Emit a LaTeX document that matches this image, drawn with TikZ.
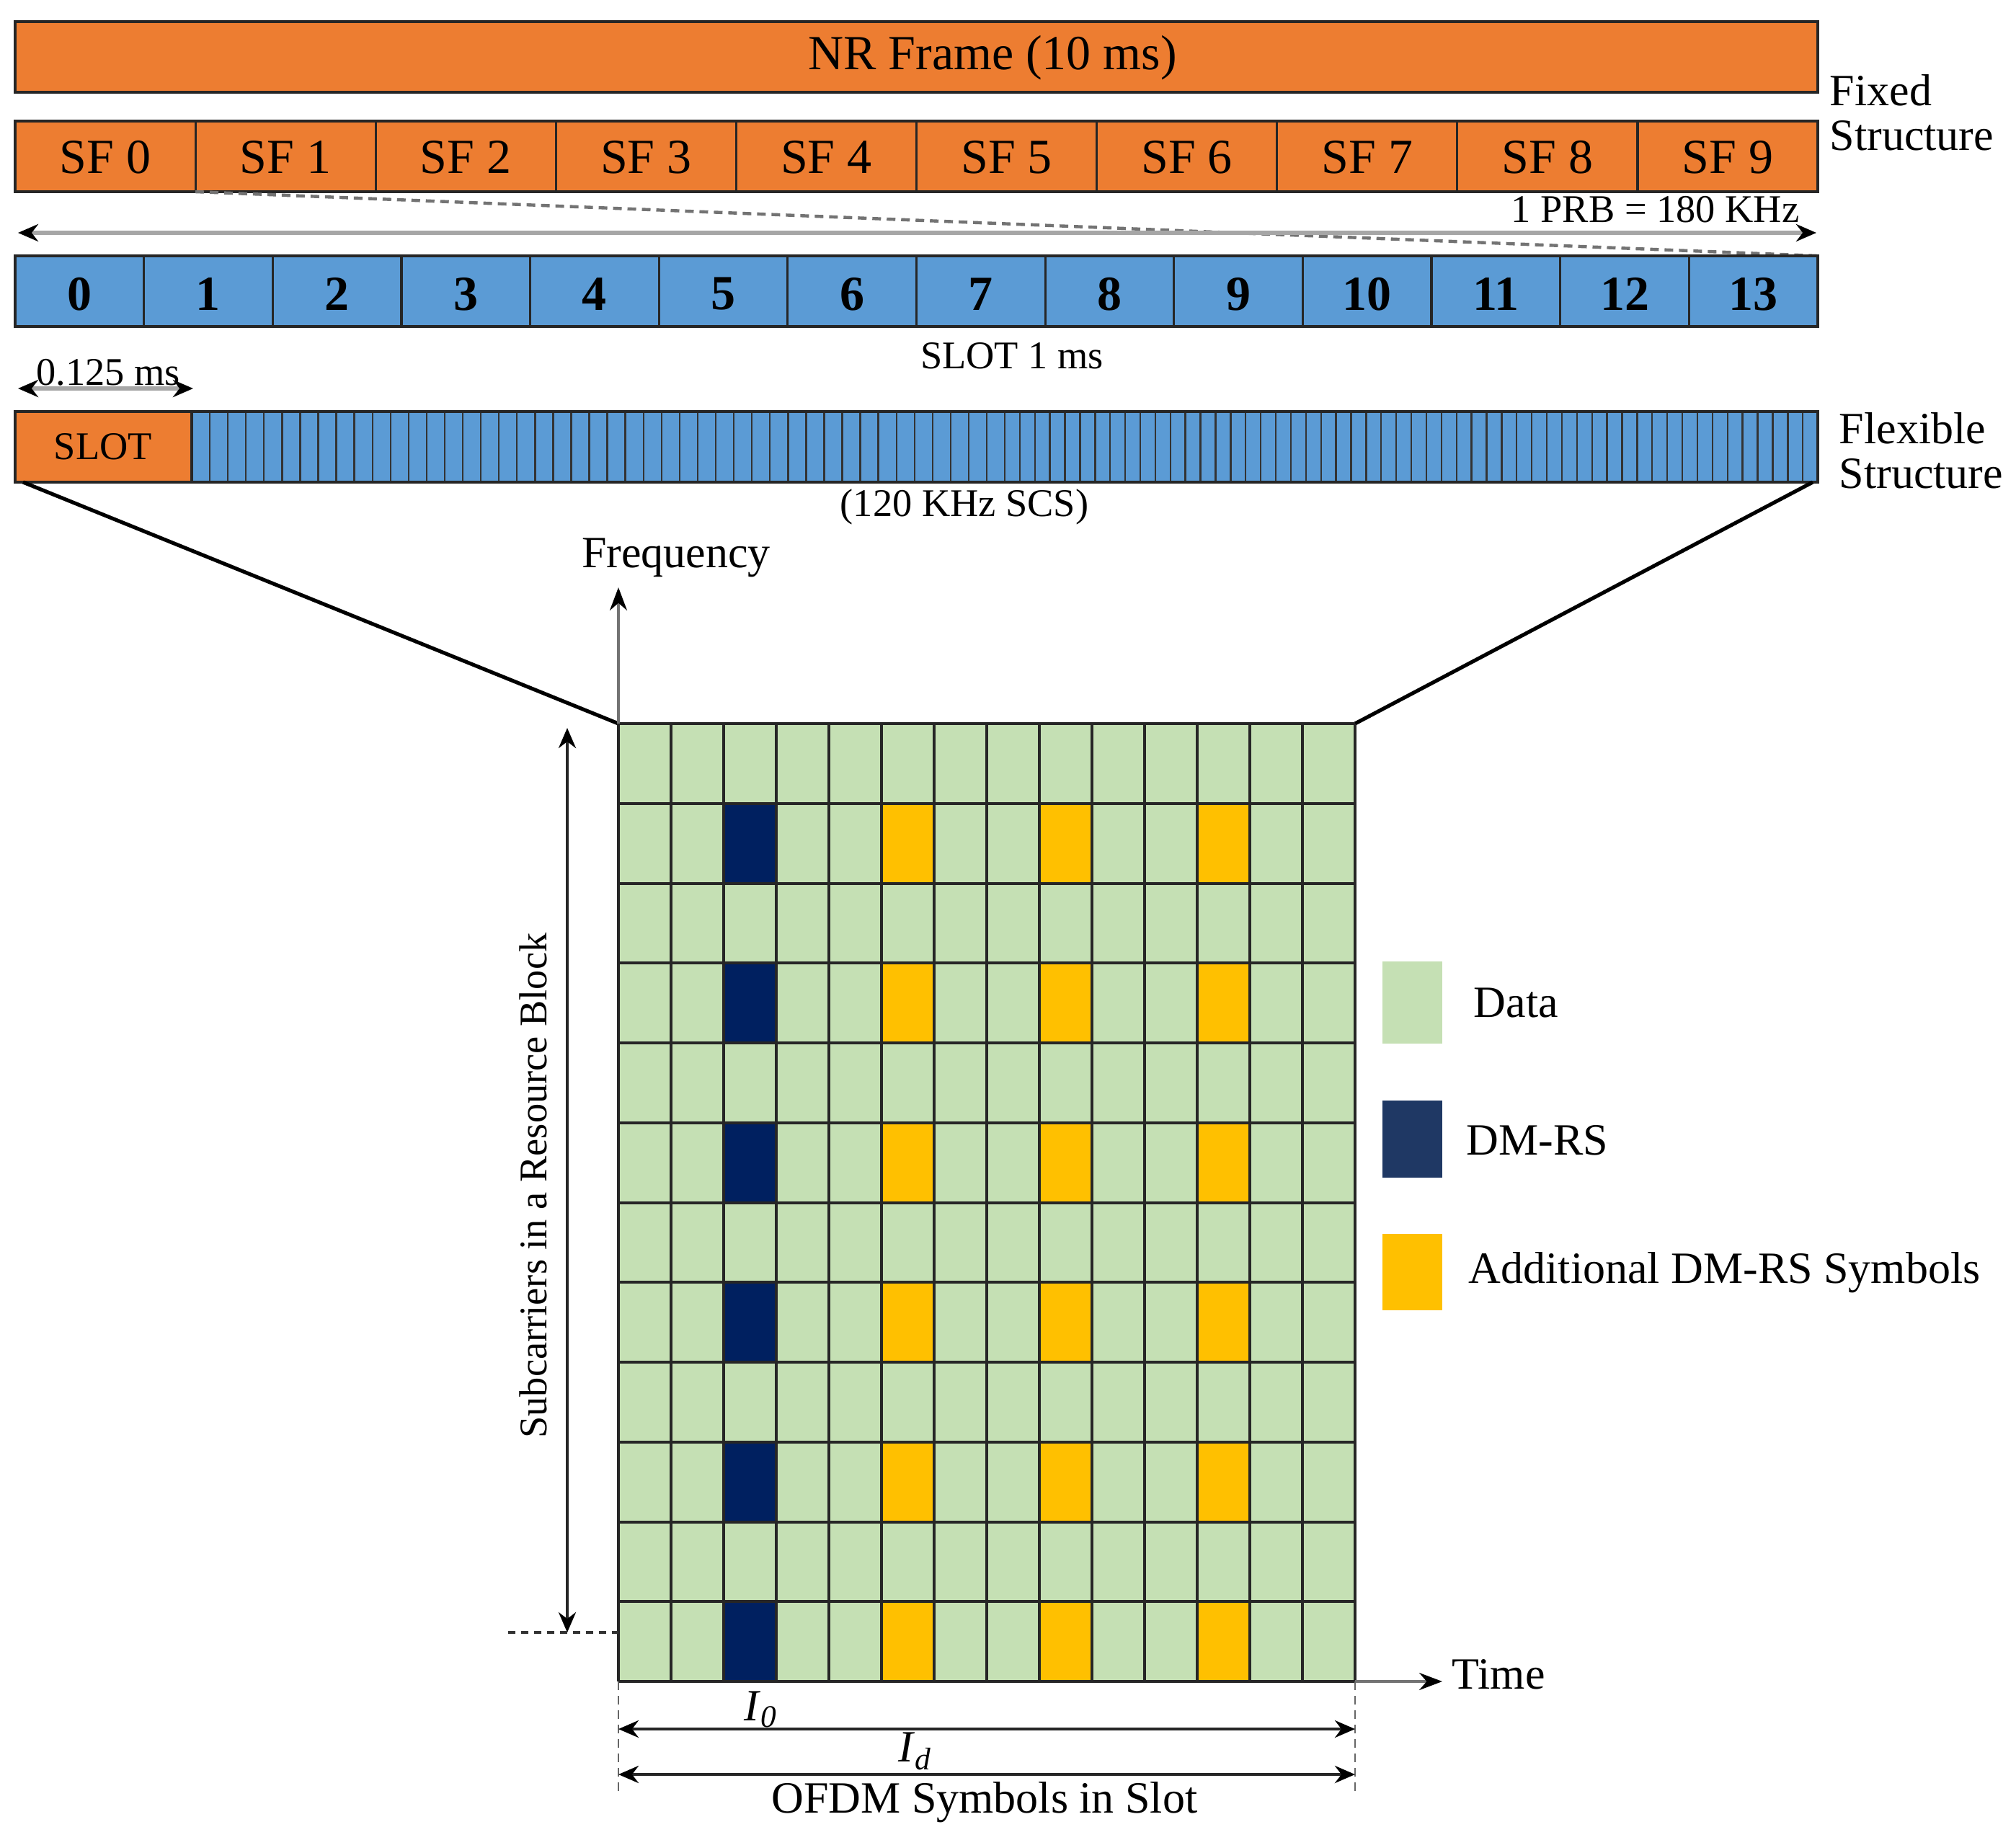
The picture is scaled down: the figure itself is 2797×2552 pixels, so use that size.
\documentclass[tikz,border=0pt]{standalone}
\usepackage{fontspec}
\setmainfont{Liberation Serif}
\usetikzlibrary{arrows.meta}
\definecolor{orng}{HTML}{ED7D31}
\definecolor{blu}{HTML}{5B9BD5}
\definecolor{grn}{HTML}{C5E0B4}
\definecolor{navy}{HTML}{002060}
\definecolor{navyl}{HTML}{1F3864}
\definecolor{yel}{HTML}{FFC000}
\definecolor{arrgray}{HTML}{A6A6A6}
\tikzset{
  bar/.style={draw=black!85, line width=1.2pt},
  cellline/.style={draw=black!85, line width=0.8pt},
  stripe/.style={draw=black!80, line width=0.6pt},
  gridline/.style={draw=black!85, line width=1pt},
  big/.style={font=\fontsize{17}{17}\selectfont, inner sep=0pt},
  bignum/.style={font=\fontsize{17}{17}\selectfont\bfseries, inner sep=0pt},
  med/.style={font=\fontsize{15.5}{15.5}\selectfont, inner sep=0pt},
  small/.style={font=\fontsize{13.6}{13.6}\selectfont, inner sep=0pt},
  graydbl/.style={draw=arrgray, line width=1.3pt, {Stealth[color=black,length=7pt,width=6pt]}-{Stealth[color=black,length=7pt,width=6pt]}},
  axisarrow/.style={draw=black!55, line width=0.8pt, -{Stealth[color=black,length=8pt,width=6pt]}},
  dimarrow/.style={draw=black!85, line width=1pt, {Stealth[color=black,length=7pt,width=6pt]}-{Stealth[color=black,length=7pt,width=6pt]}},
  zoomline/.style={draw=black, line width=1.3pt},
}
\begin{document}
\begin{tikzpicture}[x=0.25pt,y=-0.25pt]
\useasboundingbox (0,0) rectangle (2797,2552);

% ---------- NR frame ----------
\draw[bar, fill=orng] (21,30) rectangle (2522,128);
\node[big] (nr) at (1377,80) {NR Frame (10 ms)};

% ---------- Subframes ----------
\draw[bar, fill=orng] (21,168) rectangle (2522,266);
\foreach \i in {1,...,9} \draw[cellline] ({21+250.1*\i},168) -- ({21+250.1*\i},266);
\foreach \i in {0,...,9} \node[big] (sf\i) at ({21+250.1*(\i+0.5)},218) {SF \i};
\node[med, anchor=west, align=left] (fixed) at (2538,156) {Fixed\\Structure};

% ---------- dashed zoom line and PRB arrow ----------
\coordinate (sfbl) at (271,266);
\coordinate (slottr) at (2522,355);
\draw[draw=black!55, line width=1.1pt, dash pattern=on 3pt off 2pt] (sfbl) -- (slottr);
\coordinate (prbL) at (25,323);
\coordinate (prbR) at (2520,323);
\draw[graydbl] (prbL) -- (prbR);
\node[small, anchor=east] (prb) at (2497,291) {1 PRB = 180 KHz};

% ---------- Slot symbols ----------
\draw[bar, fill=blu] (21,355) rectangle (2522,453);
\foreach \i in {1,...,13} \draw[cellline] ({21+178.64*\i},355) -- ({21+178.64*\i},453);
\foreach \i in {0,...,13} \node[bignum] (sym\i) at ({21+178.64*(\i+0.5)},408) {\i};
\node[small] (slotms) at (1404,494) {SLOT 1 ms};

% ---------- 0.125 ms ----------
\coordinate (qL) at (25,539);
\coordinate (qR) at (268,539);
\draw[graydbl] (qL) -- (qR);
\node[small] (qms) at (150,517) {0.125 ms};

% ---------- Flexible row ----------
\fill[blu] (266,571) rectangle (2522,669);
\foreach \i in {1,...,45} \draw[stripe] ({266+25.07*\i},571) -- ++(0,98);
\foreach \i in {1,...,53} \draw[stripe] ({1394+20.89*\i},571) -- ++(0,98);
\fill[orng] (21,571) rectangle (266,669);
\draw[cellline] (266,571) -- (266,669);
\draw[bar] (21,571) rectangle (2522,669);
\node[small] (slot) at (143,620) {SLOT};
\node[small] (scs) at (1338,703) {(120 KHz SCS)};
\node[med, anchor=west, align=left] (flex) at (2551,625) {Flexible\\Structure};

% ---------- zoom lines ----------
\coordinate (fbl) at (32,669);
\coordinate (fbr) at (2515,669);
\coordinate (gtl) at (858,1004);
\coordinate (gtr) at (1880,1004);
\coordinate (gbl) at (858,2333);
\coordinate (gbr) at (1880,2333);
\draw[zoomline] (fbl) -- (gtl);
\draw[zoomline] (fbr) -- (gtr);

% ---------- resource grid ----------
\fill[grn] (gtl) rectangle (gbr);
\foreach \r in {1,3,5,7,9,11} {
  \fill[navy] ({858+73*2},{1004+110.75*\r}) rectangle ++(73,110.75);
  \foreach \c in {5,8,11}
    \fill[yel] ({858+73*\c},{1004+110.75*\r}) rectangle ++(73,110.75);
}
\foreach \c in {0,...,14} \draw[gridline] ({858+73*\c},1004) -- ++(0,1329);
\foreach \r in {0,...,12} \draw[gridline] (858,{1004+110.75*\r}) -- ++(1022,0);

% ---------- axes ----------
\coordinate (freqtip) at (858,815);
\draw[axisarrow] (gtl) -- (freqtip);
\node[med] (freq) at (938,774) {Frequency};
\coordinate (timetip) at (2001,2333);
\draw[axisarrow] (gbr) -- (timetip);
\node[med, anchor=west] (time) at (2014,2323) {Time};

% ---------- subcarrier arrow ----------
\coordinate (scT) at (787,1010);
\coordinate (scB) at (787,2265);
\draw[dimarrow] (scT) -- (scB);
\coordinate (dotL) at (705,2265);
\coordinate (dotR) at (858,2265);
\draw[draw=black!80, line width=0.8pt, dash pattern=on 2.5pt off 2pt] (dotL) -- (dotR);
\node[small, rotate=90] (subc) at (740,1645) {Subcarriers in a Resource Block};

% ---------- OFDM dimension arrows ----------
\coordinate (dL) at (858,2488);
\coordinate (dR) at (1880,2488);
\draw[draw=black!60, line width=0.7pt, dash pattern=on 3pt off 2pt] (gbl) -- (dL);
\draw[draw=black!60, line width=0.7pt, dash pattern=on 3pt off 2pt] (gbr) -- (dR);
\coordinate (i0L) at (858,2399);
\coordinate (i0R) at (1880,2399);
\draw[dimarrow] (i0L) -- (i0R);
\node[med] (i0) at (1056,2372) {\textit{I}\textsubscript{\textit{0}}};
\coordinate (idL) at (858,2462);
\coordinate (idR) at (1880,2462);
\draw[dimarrow] (idL) -- (idR);
\node[med] (id) at (1270,2430) {\textit{I}\textsubscript{\textit{d}}};
\node[med] (ofdm) at (1366,2501) {OFDM Symbols in Slot};

% ---------- legend ----------
\fill[grn] (1918,1334) rectangle (2001,1448);
\fill[navyl] (1918,1527) rectangle (2001,1634);
\fill[yel] (1918,1712) rectangle (2001,1818);
\node[med, anchor=west] (ldata) at (2044,1391) {Data};
\node[med, anchor=west] (ldmrs) at (2034,1582) {DM-RS};
\node[med, anchor=west] (ladd) at (2037,1766) {Additional DM-RS Symbols};
\end{tikzpicture}
\end{document}
